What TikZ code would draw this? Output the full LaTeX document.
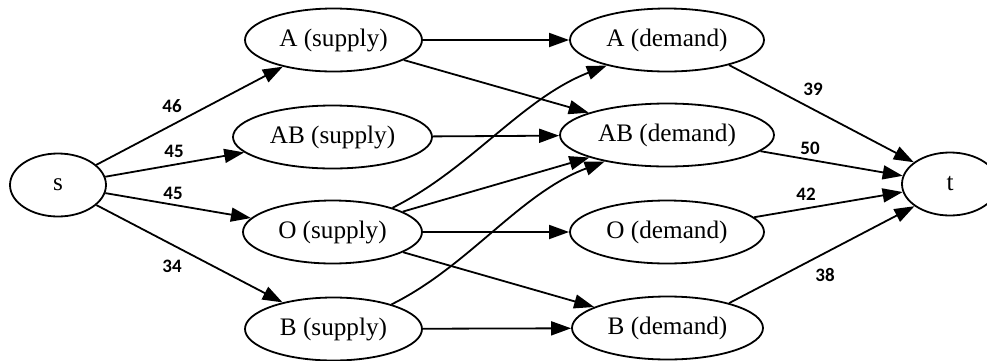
\documentclass[tikz,border=0pt]{standalone}
\usepackage{fontspec}
\setmainfont{Liberation Serif}
\newfontfamily\labfont{Carlito}
\usetikzlibrary{shapes.geometric,arrows.meta}
\begin{document}
\begin{tikzpicture}[x=0.5pt,y=-0.5pt,
  nd/.style={ellipse,draw,line width=0.9pt,inner sep=0pt,minimum height=31.5pt,font=\fontsize{12.6}{14}\selectfont},
  edge/.style={line width=0.9pt,-{Triangle[length=10pt,width=7pt]}},
  lab/.style={font=\labfont\bfseries\fontsize{9.5}{11}\selectfont,inner sep=0pt}]
\useasboundingbox (0,0) rectangle (987,360);
\clip (0,0) rectangle (987,360);
\node[nd,minimum width=48pt] (s) at (58,185) {s};
\node[nd,minimum width=88.5pt] (asup) at (333.5,40) {A (supply)};
\node[nd,minimum width=99.5pt] (absup) at (332.5,137) {AB (supply)};
\node[nd,minimum width=89.5pt] (osup) at (332.5,232) {O (supply)};
\node[nd,minimum width=88.5pt] (bsup) at (333.5,329) {B (supply)};
\node[nd,minimum width=97pt] (ad) at (667,40) {A (demand)};
\node[nd,minimum width=107pt] (abd) at (667,135) {AB (demand)};
\node[nd,minimum width=97pt] (od) at (667,232) {O (demand)};
\node[nd,minimum width=95.5pt] (bd) at (667.5,328) {B (demand)};
\node[nd,minimum width=48pt] (t) at (950,184) {t};
% source edges
\draw[edge] (s) -- (asup);
\draw[edge] (s) -- (absup);
\draw[edge] (s) -- (osup);
\draw[edge] (s) -- (bsup);
% middle edges
\draw[edge] (asup) -- (ad);
\draw[edge] (asup) -- (abd);
\draw[edge] (absup) -- (abd);
\draw[edge] (osup.22) .. controls +(77,-38) and +(-85,33) .. (ad.203);
\draw[edge] (osup) -- (abd);
\draw[edge] (osup) -- (od);
\draw[edge] (osup) -- (bd);
\draw[edge] (bsup.23) .. controls +(77,-38) and +(-85,32) .. (abd.203);
\draw[edge] (bsup) -- (bd);
% sink edges
\draw[edge] (ad.-22) -- (t.149);
\draw[edge] (abd) -- (t);
\draw[edge] (od) -- (t);
\draw[edge] (bd.22) -- (t.212);
% labels
\node[lab] (l46) at (172,106) {46};
\node[lab] (l45a) at (174,151) {45};
\node[lab] (l45b) at (173,193) {45};
\node[lab] (l34) at (172,266) {34};
\node[lab] (l39) at (813,89) {39};
\node[lab] (l50) at (810,148) {50};
\node[lab] (l42) at (806,194) {42};
\node[lab] (l38) at (825,275) {38};
\end{tikzpicture}
\end{document}
